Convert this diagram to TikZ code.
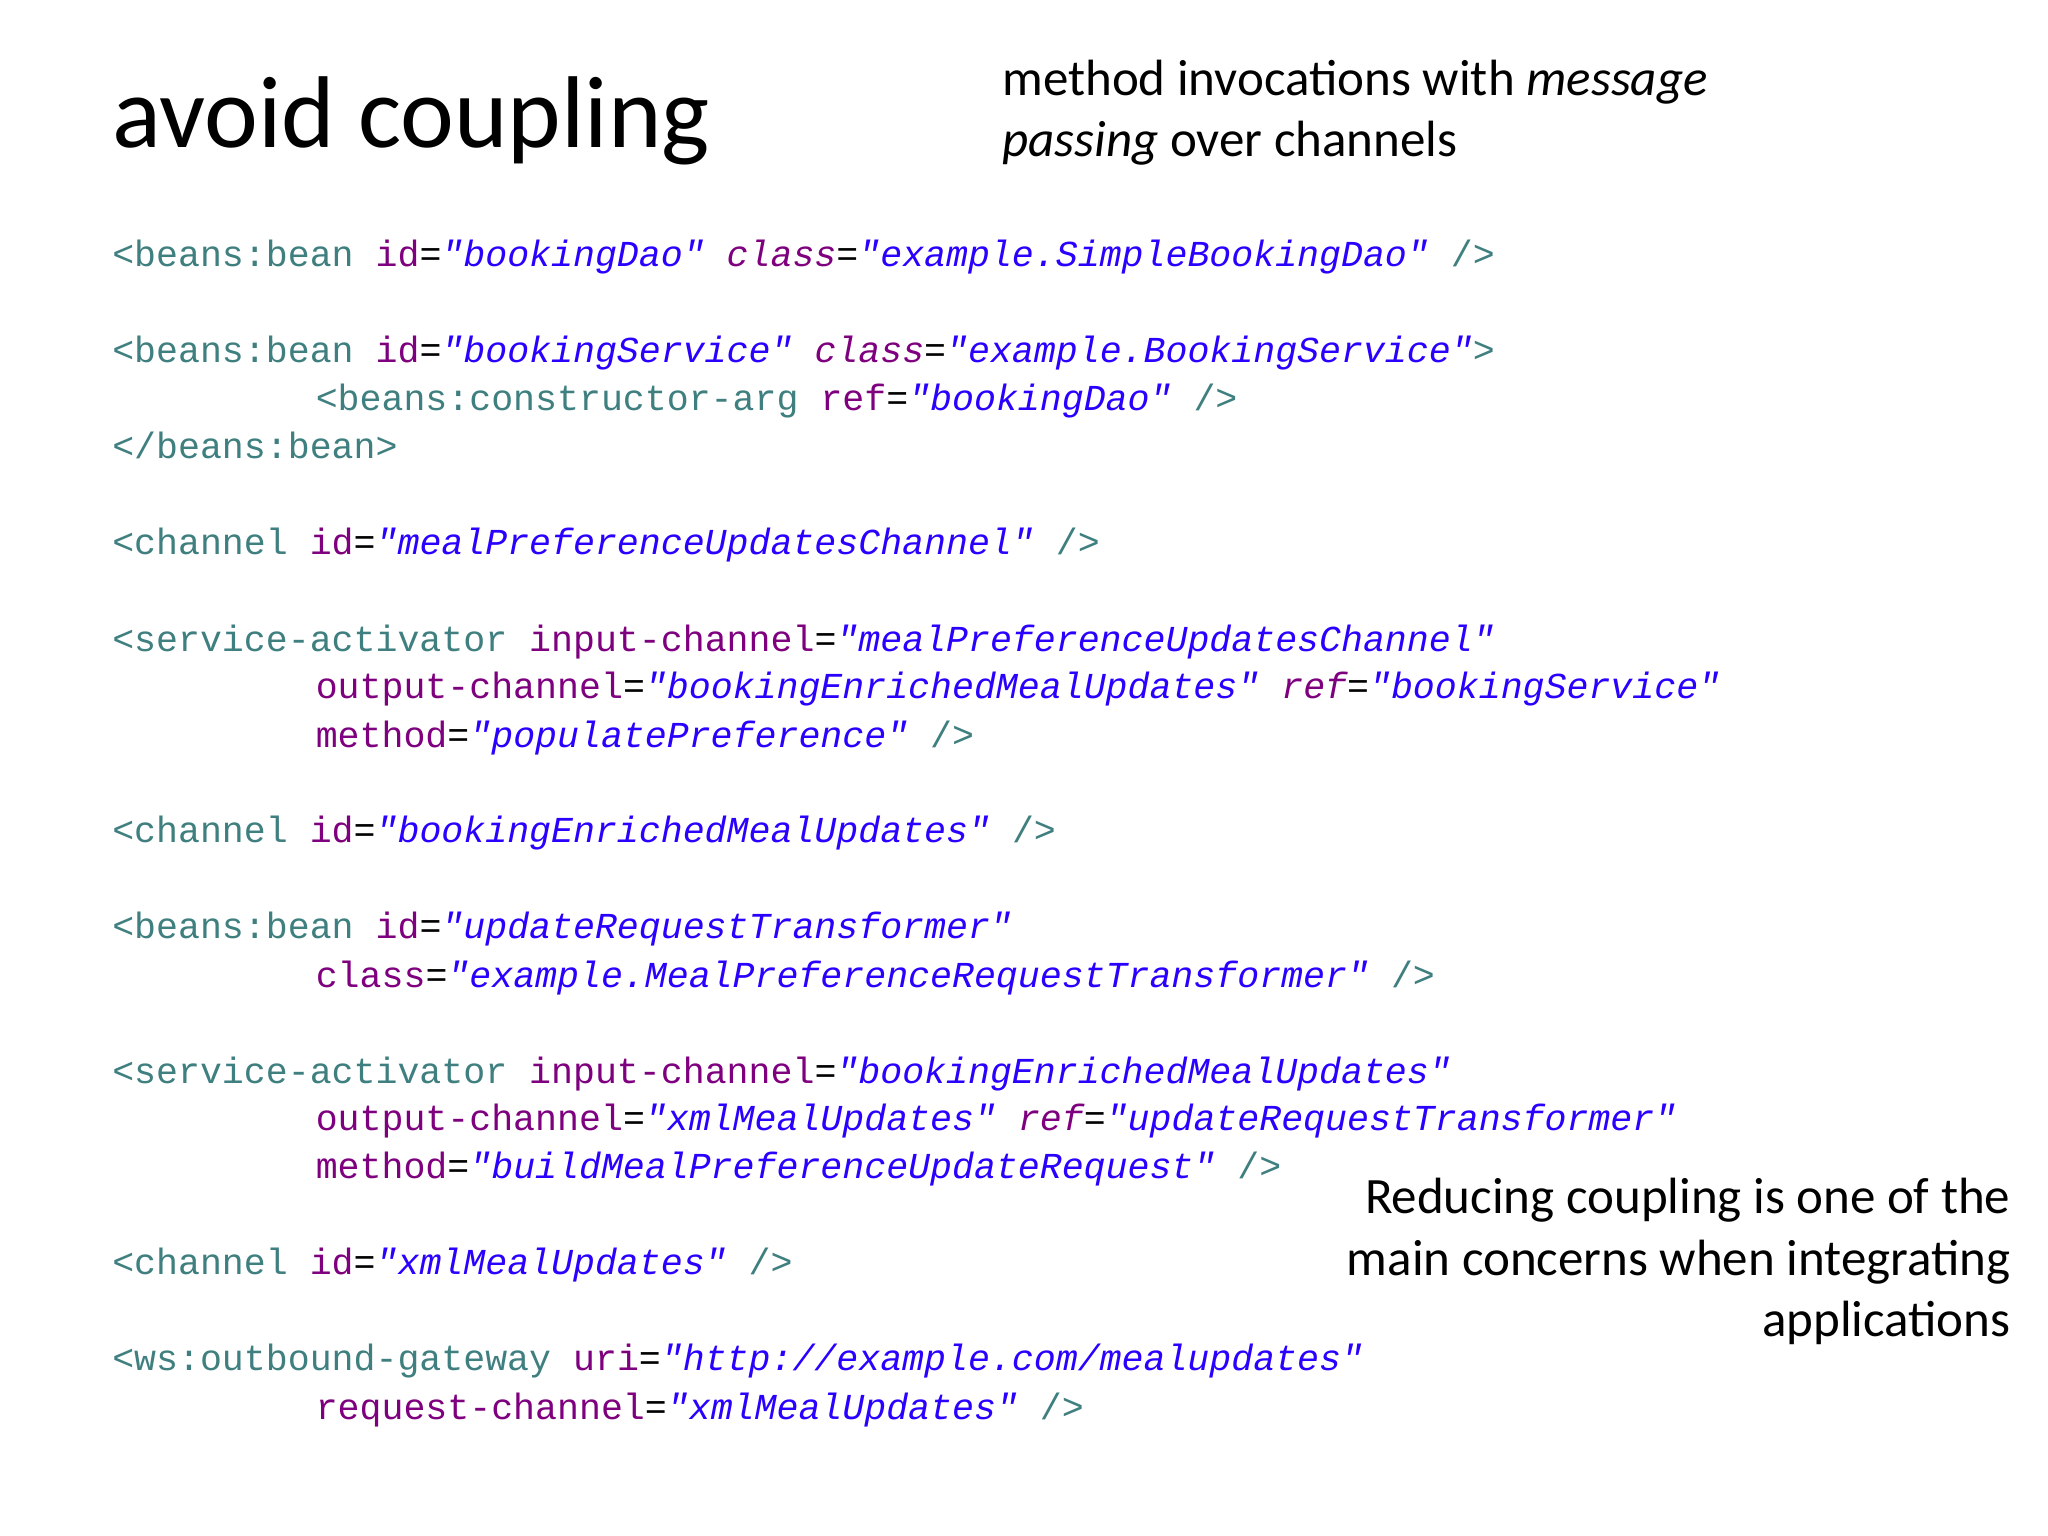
\documentclass[tikz,border=0pt]{standalone}
\usepackage{fontspec}
\setmainfont{Carlito}
\setmonofont{Liberation Mono}
\definecolor{tagc}{HTML}{3F7F7F}
\definecolor{attc}{HTML}{7F007F}
\definecolor{valc}{HTML}{2A00FF}
\newcommand\tg[1]{\textcolor{tagc}{#1}}
\newcommand\at[1]{\textcolor{attc}{#1}}
\newcommand\ati[1]{\textcolor{attc}{\itshape #1}}
\newcommand\vl[1]{\textcolor{valc}{\itshape "#1"}}
\begin{document}
\begin{tikzpicture}[x=0.01313cm,y=-0.01313cm,
  code/.style={anchor=base west,inner sep=0,font=\ttfamily\fontsize{10.4}{13}\selectfont},
  txt/.style={inner sep=0,font=\fontsize{14.5}{17.5}\selectfont}]
\useasboundingbox[fill=white] (0,0) rectangle (1560,1170);
\node[anchor=base west,inner sep=0,font=\fontsize{29}{34}\selectfont] (title) at (85,112) {avoid coupling};
\node[txt,anchor=north west,align=left] (sub) at (763,45) {method invocations with \textit{message}\\\textit{passing} over channels};
\node[txt,anchor=north east,align=right] (note) at (1532,897) {Reducing coupling is one of the\\main concerns when integrating\\applications};
\node[code] (l1) at (85,203) {\tg{<beans:bean} \at{id}=\vl{bookingDao} \ati{class}=\vl{example.SimpleBookingDao} \tg{/>}};
\node[code] (l2) at (85,276) {\tg{<beans:bean} \at{id}=\vl{bookingService} \ati{class}=\vl{example.BookingService}\tg{>}};
\node[code] (l3) at (240,313) {\tg{<beans:constructor-arg} \at{ref}=\vl{bookingDao} \tg{/>}};
\node[code] (l4) at (85,349) {\tg{</beans:bean>}};
\node[code] (l5) at (85,422) {\tg{<channel} \at{id}=\vl{mealPreferenceUpdatesChannel} \tg{/>}};
\node[code] (l6) at (85,496) {\tg{<service-activator} \at{input-channel}=\vl{mealPreferenceUpdatesChannel}};
\node[code] (l7) at (240,532) {\at{output-channel}=\vl{bookingEnrichedMealUpdates} \ati{ref}=\vl{bookingService}};
\node[code] (l8) at (240,569) {\at{method}=\vl{populatePreference} \tg{/>}};
\node[code] (l9) at (85,642) {\tg{<channel} \at{id}=\vl{bookingEnrichedMealUpdates} \tg{/>}};
\node[code] (l10) at (85,715) {\tg{<beans:bean} \at{id}=\vl{updateRequestTransformer}};
\node[code] (l11) at (240,752) {\at{class}=\vl{example.MealPreferenceRequestTransformer} \tg{/>}};
\node[code] (l12) at (85,825) {\tg{<service-activator} \at{input-channel}=\vl{bookingEnrichedMealUpdates}};
\node[code] (l13) at (240,861) {\at{output-channel}=\vl{xmlMealUpdates} \ati{ref}=\vl{updateRequestTransformer}};
\node[code] (l14) at (240,898) {\at{method}=\vl{buildMealPreferenceUpdateRequest} \tg{/>}};
\node[code] (l15) at (85,971) {\tg{<channel} \at{id}=\vl{xmlMealUpdates} \tg{/>}};
\node[code] (l16) at (85,1044) {\tg{<ws:outbound-gateway} \at{uri}=\vl{http://example.com/mealupdates}};
\node[code] (l17) at (240,1081) {\at{request-channel}=\vl{xmlMealUpdates} \tg{/>}};
\end{tikzpicture}
\end{document}
